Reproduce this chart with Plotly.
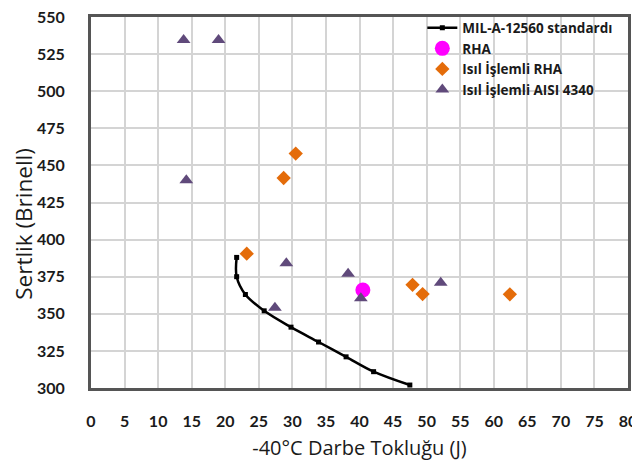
import plotly.graph_objects as go

# MIL-A-12560 standard curve
mil_x = [21.7, 21.7, 23.0, 25.8, 29.8, 33.9, 38.0, 42.1, 47.5]
mil_y = [388, 375, 363, 352, 341, 331, 321, 311, 302]

# RHA
rha_x = [40.5]
rha_y = [366]

# Heat-treated RHA
hrha_x = [23.2, 28.7, 30.5, 47.9, 49.4, 62.4]
hrha_y = [390.5, 441.5, 458, 369.5, 363.3, 363.1]

# Heat-treated AISI 4340
aisi_x = [13.8, 19.0, 14.2, 29.1, 27.4, 38.3, 40.2, 52.1]
aisi_y = [534.5, 534.5, 440, 384, 354, 377, 360.5, 371]

x_ticks = list(range(0, 81, 5))
y_ticks = list(range(300, 551, 25))

tick_font = "Lato, Open Sans, sans-serif"
title_font = "Open Sans, sans-serif"

fig = go.Figure()
fig.add_trace(go.Scatter(
    x=mil_x, y=mil_y, mode="lines+markers", name="MIL-A-12560 standardı",
    line=dict(color="black", width=2.5, shape="spline"),
    marker=dict(symbol="square", size=5, color="black"),
))
fig.add_trace(go.Scatter(
    x=rha_x, y=rha_y, mode="markers", name="RHA",
    marker=dict(symbol="circle", size=15, color="#FF00FF"),
))
fig.add_trace(go.Scatter(
    x=hrha_x, y=hrha_y, mode="markers", name="Isıl İşlemli RHA",
    marker=dict(symbol="diamond", size=11, color="#E46C0A"),
))
fig.add_trace(go.Scatter(
    x=aisi_x, y=aisi_y, mode="markers", name="Isıl İşlemli AISI 4340",
    marker=dict(symbol="triangle-up", size=12, color="#604A7B"),
))

fig.update_layout(
    width=632, height=460,
    margin=dict(l=83, r=12, t=5, b=80),
    paper_bgcolor="white", plot_bgcolor="white",
    font=dict(family=tick_font, color="#1a1a1a"),
    showlegend=True,
    legend=dict(
        x=0.617, y=1.012, xanchor="left", yanchor="top",
        bgcolor="rgba(0,0,0,0)", borderwidth=0,
        font=dict(size=13.5, family=title_font, weight="bold"),
        tracegroupgap=0, itemwidth=30,
    ),
    annotations=[dict(
        text="Sertlik (Brinell)", textangle=-90, showarrow=False,
        xref="paper", yref="paper", x=-0.1245, y=0.443,
        xanchor="center", yanchor="middle",
        font=dict(size=22.5, family=title_font, color="#1a1a1a"),
    )],
)
fig.update_xaxes(
    range=[0, 80], tickvals=x_ticks, ticktext=[str(v) for v in x_ticks],
    showgrid=True, gridcolor="#D4D4D4", gridwidth=2,
    showline=True, linecolor="#555555", linewidth=3, mirror=True,
    ticks="", zeroline=False, ticklabelstandoff=17, automargin=False,
    ticklabeloverflow="allow",
    tickfont=dict(size=16, family=tick_font, weight="bold", color="#1a1a1a"),
    title=dict(text="-40°C Darbe Tokluğu (J)", font=dict(size=20, family=title_font), standoff=12),
)
fig.update_yaxes(
    range=[300, 550], tickvals=y_ticks, ticktext=[str(v) for v in y_ticks],
    showgrid=True, gridcolor="#D4D4D4", gridwidth=2,
    showline=True, linecolor="#555555", linewidth=3, mirror=True,
    ticks="", zeroline=False, ticklabelstandoff=20, automargin=False,
    ticklabeloverflow="allow",
    tickfont=dict(size=16, family=tick_font, weight="bold", color="#1a1a1a"),
)

fig.write_html("out.html")
